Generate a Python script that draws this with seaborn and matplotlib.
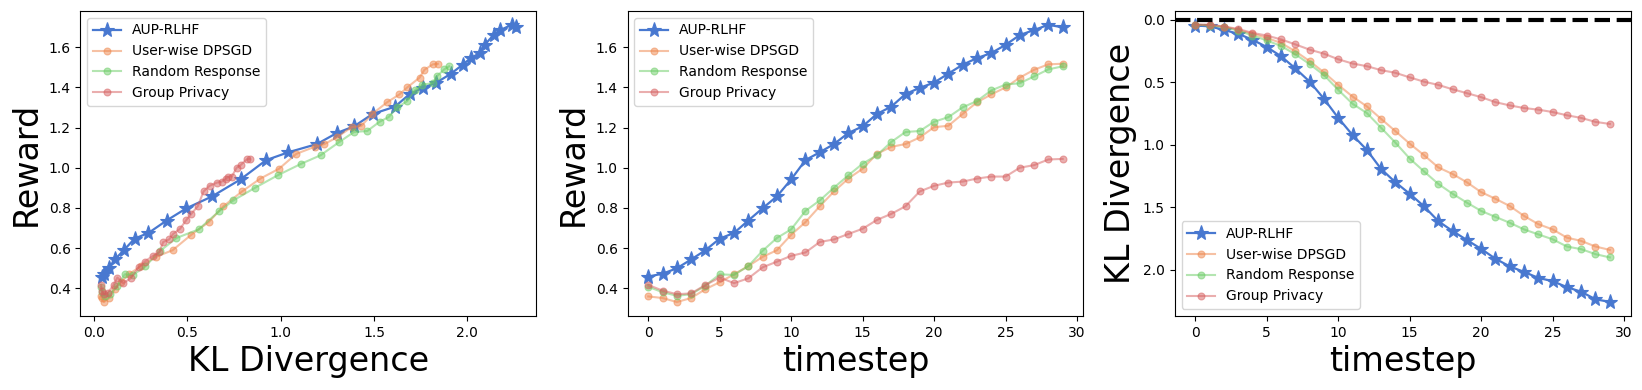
import numpy as np
import pandas as pd
import matplotlib
matplotlib.use("Agg")
import matplotlib.pyplot as plt
import seaborn as sns

timestep = list(range(30))
methods = ["AUP-RLHF", "User-wise DPSGD", "Random Response", "Group Privacy"]

reward_aup = [0.458, 0.472, 0.499, 0.543, 0.589, 0.647, 0.675, 0.737, 0.798, 0.857,
              0.942, 1.038, 1.077, 1.118, 1.173, 1.206, 1.268, 1.304, 1.367, 1.398,
              1.424, 1.469, 1.513, 1.546, 1.571, 1.612, 1.661, 1.686, 1.712, 1.699]
reward_dpsgd = [0.359, 0.351, 0.331, 0.351, 0.395, 0.430, 0.469, 0.510, 0.556, 0.589,
                0.666, 0.729, 0.808, 0.882, 0.946, 0.995, 1.069, 1.104, 1.118, 1.151,
                1.202, 1.209, 1.268, 1.326, 1.365, 1.400, 1.449, 1.488, 1.515, 1.518]
reward_rr = [0.407, 0.380, 0.362, 0.370, 0.413, 0.469, 0.466, 0.510, 0.586, 0.650,
             0.693, 0.785, 0.837, 0.901, 0.962, 1.020, 1.062, 1.128, 1.178, 1.183,
             1.229, 1.252, 1.301, 1.332, 1.385, 1.414, 1.421, 1.455, 1.490, 1.505]
reward_gp = [0.416, 0.388, 0.370, 0.374, 0.416, 0.453, 0.425, 0.449, 0.504, 0.532,
             0.561, 0.578, 0.630, 0.643, 0.670, 0.696, 0.740, 0.770, 0.808, 0.882,
             0.910, 0.926, 0.931, 0.946, 0.956, 0.956, 1.000, 1.013, 1.041, 1.044]

kl_aup = [0.047, 0.053, 0.082, 0.113, 0.161, 0.219, 0.293, 0.390, 0.496, 0.633,
          0.786, 0.923, 1.042, 1.195, 1.301, 1.393, 1.493, 1.612, 1.691, 1.763,
          1.834, 1.913, 1.974, 2.018, 2.066, 2.092, 2.140, 2.177, 2.237, 2.258]
kl_dpsgd = [0.040, 0.042, 0.055, 0.082, 0.113, 0.145, 0.187, 0.253, 0.332, 0.422,
            0.522, 0.615, 0.694, 0.794, 0.892, 0.992, 1.084, 1.182, 1.235, 1.301,
            1.380, 1.433, 1.491, 1.570, 1.636, 1.678, 1.744, 1.770, 1.815, 1.842]
kl_rr = [0.040, 0.047, 0.061, 0.087, 0.127, 0.166, 0.211, 0.277, 0.356, 0.443,
         0.562, 0.673, 0.747, 0.865, 0.984, 1.111, 1.214, 1.314, 1.393, 1.464,
         1.530, 1.578, 1.625, 1.678, 1.718, 1.757, 1.815, 1.836, 1.876, 1.902]
kl_gp = [0.040, 0.042, 0.055, 0.074, 0.106, 0.127, 0.158, 0.198, 0.240, 0.272,
         0.317, 0.351, 0.372, 0.404, 0.425, 0.462, 0.496, 0.522, 0.557, 0.588,
         0.620, 0.660, 0.686, 0.707, 0.720, 0.739, 0.765, 0.786, 0.818, 0.834]

rewards = [reward_aup, reward_dpsgd, reward_rr, reward_gp]
kls = [kl_aup, kl_dpsgd, kl_rr, kl_gp]

plt.rcParams['font.family'] = ['DejaVu Sans']
pal = sns.color_palette("muted")
colors = [pal[0], pal[1], pal[2], pal[3]]

fig, axes = plt.subplots(1, 3, figsize=(16.42, 3.9), dpi=100)
fig.subplots_adjust(left=0.049, right=0.993, top=0.972, bottom=0.19, wspace=0.2)

LABEL_FS = 24

def draw(ax, xs_list, ys_list):
    for i, m in enumerate(methods):
        if i == 0:
            kw = dict(marker='*', markersize=11, linewidth=1.6, alpha=1.0,
                      markeredgewidth=0.8, markeredgecolor=colors[i])
        else:
            kw = dict(marker='o', markersize=5, linewidth=1.5, alpha=0.5,
                      markeredgewidth=0.8, markeredgecolor=colors[i])
        sns.lineplot(x=xs_list[i], y=ys_list[i], ax=ax, color=colors[i],
                     label=m, sort=False, estimator=None, **kw)

# Panel 1: reward vs KL
draw(axes[0], kls, rewards)
axes[0].set_xlabel("KL Divergence", fontsize=LABEL_FS)
axes[0].set_ylabel("Reward", fontsize=LABEL_FS)
axes[0].legend(loc='upper left', fontsize=10)

# Panel 2: reward vs timestep
draw(axes[1], [timestep] * 4, rewards)
axes[1].set_xlabel("timestep", fontsize=LABEL_FS)
axes[1].set_ylabel("Reward", fontsize=LABEL_FS)
axes[1].legend(loc='upper left', fontsize=10)

# Panel 3: KL vs timestep (inverted)
draw(axes[2], [timestep] * 4, kls)
axes[2].axhline(0, color='black', linestyle='--', linewidth=3)
axes[2].set_ylim(2.37, -0.07)
axes[2].set_xlabel("timestep", fontsize=LABEL_FS)
axes[2].set_ylabel("KL Divergence", fontsize=LABEL_FS)
axes[2].legend(loc='lower left', fontsize=10)

for ax in axes[1:]:
    ax.set_xticks([0, 5, 10, 15, 20, 25, 30])

fig.savefig("out.png", dpi=100)
